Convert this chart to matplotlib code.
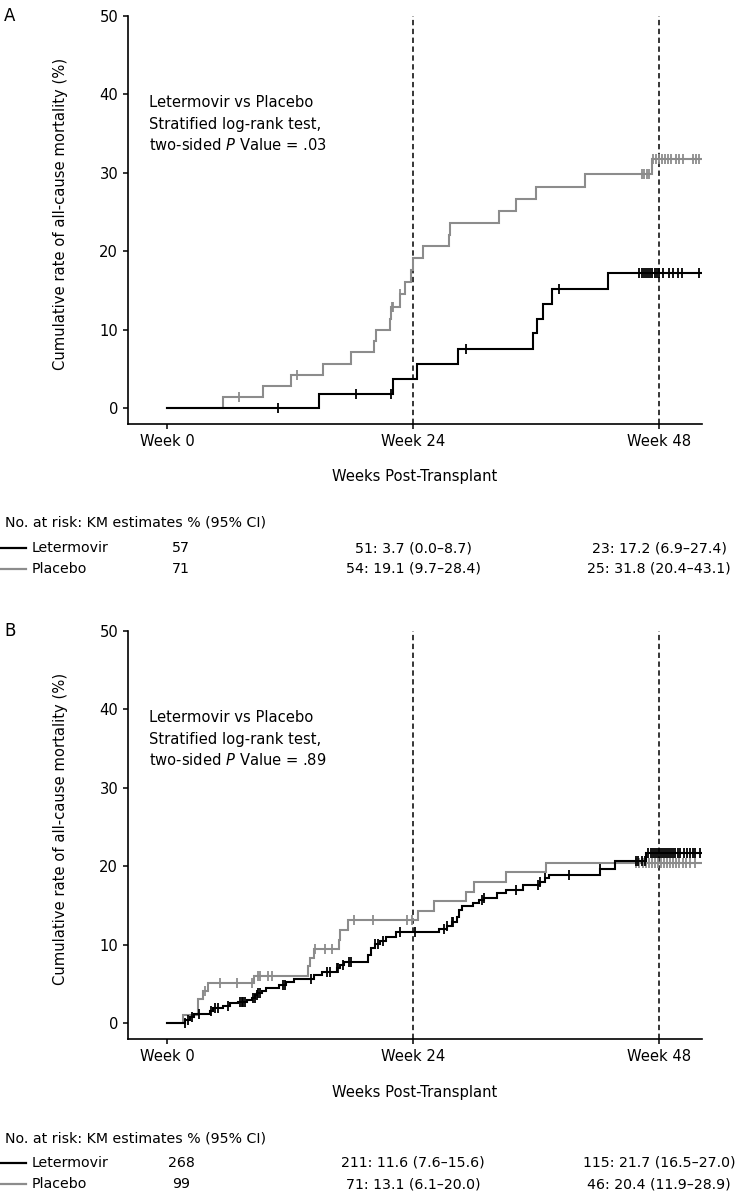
import numpy as np
import matplotlib
matplotlib.use('Agg')
from matplotlib import pyplot as plt
from matplotlib import transforms
from matplotlib.lines import Line2D

W, H = 739, 1195

# ---- panel A: cumulative mortality steps (weeks, %)
a_let_t = [0, 14.8, 22.1, 24.4, 28.4, 35.7, 36.1, 36.7, 37.6, 43.0]
a_let_v = [0, 1.8, 3.7, 5.6, 7.5, 9.5, 11.4, 13.3, 15.2, 17.2]
a_let_cens = [10.8, 18.4, 21.9, 29.2, 38.2, 46.1, 46.3, 46.5, 46.7, 46.9, 47.1, 47.3,
              47.6, 47.8, 48.0, 48.4, 49.0, 49.4, 49.9, 50.2, 51.9]
a_pla_t = [0, 5.5, 9.4, 12.1, 15.25, 18.0, 20.2, 20.4, 21.75, 21.9, 22.7, 23.2, 23.85,
           23.97, 25.0, 27.5, 27.6, 32.4, 34.1, 36.0, 40.8, 47.3]
a_pla_v = [0, 1.4, 2.8, 4.2, 5.6, 7.1, 8.5, 9.9, 11.4, 12.9, 14.5, 16.1, 17.6,
           19.1, 20.6, 22.1, 23.6, 25.1, 26.7, 28.2, 29.8, 31.8]
a_pla_cens = [7.0, 12.65, 21.95, 22.1, 22.7, 46.3, 46.5, 46.8, 47.0, 47.4, 47.7, 48.0,
              48.3, 48.6, 48.9, 49.2, 49.7, 50.0, 50.3, 51.3, 51.6, 51.9]

# ---- panel B
b_let_t = [0, 1.8, 2.2, 2.6, 4.2, 4.5, 5.5, 6.15, 6.9, 7.8, 8.3, 8.6, 8.8, 9.3, 9.7,
           10.9, 11.6, 12.4, 14.3, 15.1, 16.55, 16.9, 17.3, 19.6, 19.9, 20.3, 20.8,
           21.4, 22.3, 26.5, 27.3, 27.8, 28.3, 28.5, 28.75, 29.9, 30.4, 30.9, 32.2,
           33.1, 34.7, 36.4, 36.9, 37.3, 42.2, 43.7, 46.7]
b_let_v = [0, 0.4, 0.75, 1.1, 1.5, 1.85, 2.15, 2.5, 2.7, 2.9, 3.15, 3.5, 3.85, 4.1, 4.45,
           4.8, 5.2, 5.6, 6.1, 6.5, 7.05, 7.4, 7.8, 8.65, 9.5, 10.05, 10.5,
           10.9, 11.6, 11.95, 12.35, 12.9, 13.5, 14.4, 14.9, 15.3, 15.7, 16.0, 16.6,
           17.0, 17.6, 17.95, 18.45, 18.9, 19.7, 20.7, 21.7]
b_let_cens = [1.76, 2.08, 2.41, 3.15, 4.29, 4.68, 5.0, 5.92, 7.12, 7.29, 7.44, 7.61,
              8.42, 8.59, 8.75, 8.91, 9.07, 11.34, 11.5, 14.1, 15.6, 15.9, 16.55, 16.7,
              17.2, 17.8, 18.0, 20.3, 20.6, 21.1, 22.7, 24.2, 27.0, 27.3, 27.8, 27.9,
              30.7, 30.9, 34.1, 36.2, 36.4, 36.9, 39.2, 42.2, 45.8, 46.0, 46.3, 46.6,
              46.9, 47.2, 47.4, 47.6, 47.8, 48.0, 48.2, 48.4, 48.6, 48.8, 49.0, 49.2,
              49.4, 49.6, 49.9, 50.1, 50.4, 50.7, 51.0, 51.3, 51.5, 52.0]
b_pla_t = [0, 1.6, 3.05, 3.55, 4.0, 8.5, 13.8, 14.0, 14.3, 16.8, 16.9, 17.7, 24.5,
           26.1, 29.2, 29.95, 33.1, 37.0]
b_pla_v = [0, 1.0, 3.05, 4.1, 5.05, 6.05, 7.2, 8.3, 9.4, 10.6, 11.8, 13.1, 14.3,
           15.5, 16.7, 18.0, 19.2, 20.4]
b_pla_cens = [3.7, 5.2, 6.8, 8.3, 8.9, 9.07, 9.9, 10.2, 14.4, 15.4, 16.1, 18.2, 20.1,
              23.4, 23.9, 45.8, 46.1, 46.4, 46.7, 47.0, 47.3, 47.6, 47.9, 48.2, 48.5,
              48.8, 49.1, 49.4, 49.7, 50.0, 50.3, 50.6, 51.0, 51.5]

week_ticks = [0, 24, 48]
week_labels = ['Week 0', 'Week 24', 'Week 48']

a_pvalue = '.03'
b_pvalue = '.89'
a_risk = [['57', '51: 3.7 (0.0\u20138.7)', '23: 17.2 (6.9\u201327.4)'],
          ['71', '54: 19.1 (9.7\u201328.4)', '25: 31.8 (20.4\u201343.1)']]
b_risk = [['268', '211: 11.6 (7.6\u201315.6)', '115: 21.7 (16.5\u201327.0)'],
          ['99', '71: 13.1 (6.1\u201320.0)', '46: 20.4 (11.9\u201328.9)']]
groups = ['Letermovir', 'Placebo']

BLACK = '#000000'
GRAY = '#8c8c8c'
END = 52.2
FS = 10.6
FS_TAB = 10.2

fig = plt.figure(figsize=(W / 100, H / 100), dpi=100)


def ftext(x, y, s, **kw):
    return fig.text(x / W, 1 - y / H, s, **kw)


def value_at(times, vals, t):
    idx = np.searchsorted(np.array(times), np.array(t), side='right') - 1
    return np.array(vals)[idx]


def curve(ax, times, vals, cens, color, z):
    tt = np.append(times, END)
    vv = np.append(vals, vals[-1])
    ax.step(tt, vv, where='post', color=color, lw=1.5, zorder=z, solid_joinstyle='miter')
    ax.plot(cens, value_at(times, vals, cens), ls='none', marker='|', ms=6.5,
            mew=1.3, color=color, zorder=z)


def panel(dy, letter, lt, lv, lc, pt, pv, pc, pval, risk):
    ax = fig.add_axes([128 / W, 1 - (424 + dy) / H, (702 - 128) / W, (424 - 16) / H])
    curve(ax, pt, pv, pc, GRAY, 3)
    curve(ax, lt, lv, lc, BLACK, 4)
    for w in week_ticks[1:]:
        ax.axvline(w, color=BLACK, lw=1.1, ls=(0, (3.5, 2.3)), zorder=2)
    ax.set_xlim(-3.8, END)
    ax.set_ylim(-2.05, 50)
    ax.set_yticks(range(0, 51, 10))
    ax.set_xticks(week_ticks)
    ax.set_xticklabels(week_labels)
    ax.spines['top'].set_visible(False)
    ax.spines['right'].set_visible(False)
    for s in ['left', 'bottom']:
        ax.spines[s].set_linewidth(1.2)
    ax.tick_params(direction='out', length=3.6, width=1.1, labelsize=FS, pad=3.5)

    ftext(4, 7 + dy, letter, fontsize=12, va='top', ha='left')
    ftext(61, 214 + dy, 'Cumulative rate of all-cause mortality (%)', fontsize=FS,
          rotation=90, ha='center', va='center')
    ftext(149, 107 + dy, 'Letermovir vs Placebo', fontsize=FS, va='baseline')
    ftext(149, 129 + dy, 'Stratified log-rank test,', fontsize=FS, va='baseline')
    ftext(149, 150 + dy, 'two-sided $\\mathit{P}$ Value = ' + pval, fontsize=FS,
          va='baseline')
    ftext(415, 477 + dy, 'Weeks Post-Transplant', fontsize=FS, ha='center', va='center')

    ftext(5, 527 + dy, 'No. at risk: KM estimates % (95% CI)', fontsize=FS_TAB,
          va='baseline')
    tr = transforms.blended_transform_factory(ax.transData, fig.transFigure)
    cols = [1.4] + week_ticks[1:]
    for i, (name, color) in enumerate(zip(groups, [BLACK, GRAY])):
        y = 548 + 21 * i + dy
        fig.add_artist(Line2D([0, 26 / W], [1 - y / H, 1 - y / H], color=color, lw=1.6))
        ftext(32, y, name, fontsize=FS_TAB, va='center')
        for x, s in zip(cols, risk[i]):
            ax.text(x, 1 - y / H, s, transform=tr, fontsize=FS_TAB, ha='center',
                    va='center')
    return ax


panel(0, 'A', a_let_t, a_let_v, a_let_cens, a_pla_t, a_pla_v, a_pla_cens, a_pvalue, a_risk)
panel(615, 'B', b_let_t, b_let_v, b_let_cens, b_pla_t, b_pla_v, b_pla_cens, b_pvalue, b_risk)

fig.savefig('out.png', dpi=100)
